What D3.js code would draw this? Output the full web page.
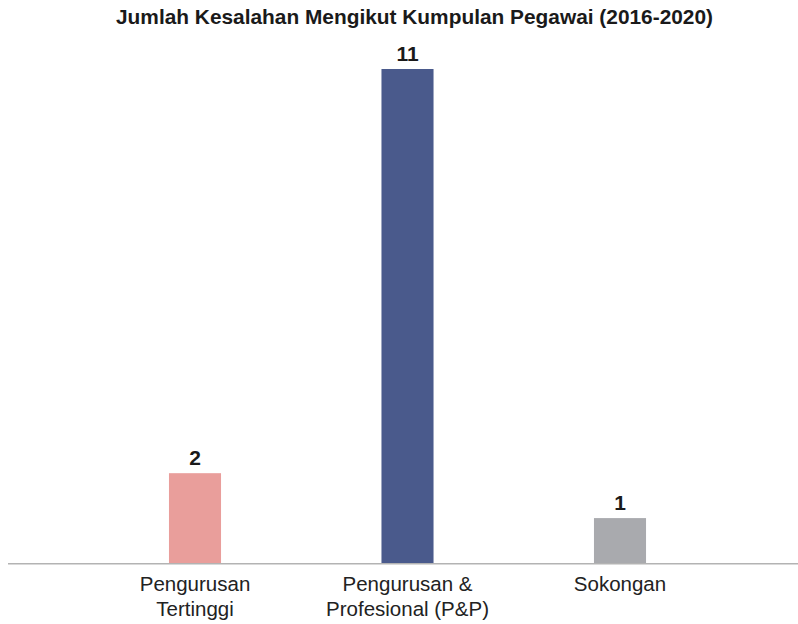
<!DOCTYPE html>
<html>
<head>
<meta charset="utf-8">
<script src="https://cdn.jsdelivr.net/npm/d3@7"></script>
<style>
body { margin: 0; background: #fff; }
svg { display: block; font-family: "Liberation Sans", Arial, Helvetica, sans-serif; }
</style>
</head>
<body>
<svg id="chart" width="798" height="624"></svg>
<script>
const categories = [["Pengurusan", "Tertinggi"], ["Pengurusan &", "Profesional (P&P)"], ["Sokongan"]];
const values = [2, 11, 1];
const colors = ["#E99E9B", "#4A5A8C", "#A9AAAE"];
const title = "Jumlah Kesalahan Mengikut Kumpulan Pegawai (2016-2020)";

const svg = d3.select("#chart");
const keys = categories.map(c => c.join(" "));

const x = d3.scaleBand().domain(keys).range([88.75, 726.25]).paddingInner(0.755).paddingOuter(0.3775);
const y = d3.scaleLinear().domain([0, 11]).range([563, 69]);

svg.append("text")
  .attr("x", 414.5).attr("y", 24)
  .attr("text-anchor", "middle")
  .attr("font-size", 20.5).attr("font-weight", "bold").attr("fill", "#1a1a1a")
  .attr("textLength", 597).attr("lengthAdjust", "spacingAndGlyphs")
  .text(title);

svg.selectAll("text.val").data(values).join("text")
  .attr("class", "val")
  .attr("x", (d, i) => x(keys[i]) + x.bandwidth() / 2)
  .attr("y", d => y(d) - 8)
  .attr("text-anchor", "middle")
  .attr("font-size", 21).attr("font-weight", "bold").attr("fill", "#1a1a1a")
  .text(d => d);

svg.selectAll("rect.bar").data(values).join("rect")
  .attr("class", "bar")
  .attr("x", (d, i) => x(keys[i]))
  .attr("width", x.bandwidth())
  .attr("y", d => y(d))
  .attr("height", d => y(0) - y(d))
  .attr("fill", (d, i) => colors[i]);

svg.append("line")
  .attr("x1", 8).attr("x2", 798)
  .attr("y1", y(0) + 0.75).attr("y2", y(0) + 0.75)
  .attr("stroke", "#b3b3b3").attr("stroke-width", 1.5);

const lab = svg.selectAll("text.cat").data(categories).join("text")
  .attr("class", "cat")
  .attr("text-anchor", "middle")
  .attr("font-size", 20.5).attr("fill", "#222");
lab.each(function(lines, i) {
  const cx = x(keys[i]) + x.bandwidth() / 2;
  d3.select(this).selectAll("tspan").data(lines).join("tspan")
    .attr("x", cx)
    .attr("y", (l, j) => 591 + j * 25)
    .text(l => l);
});
</script>
</body>
</html>
